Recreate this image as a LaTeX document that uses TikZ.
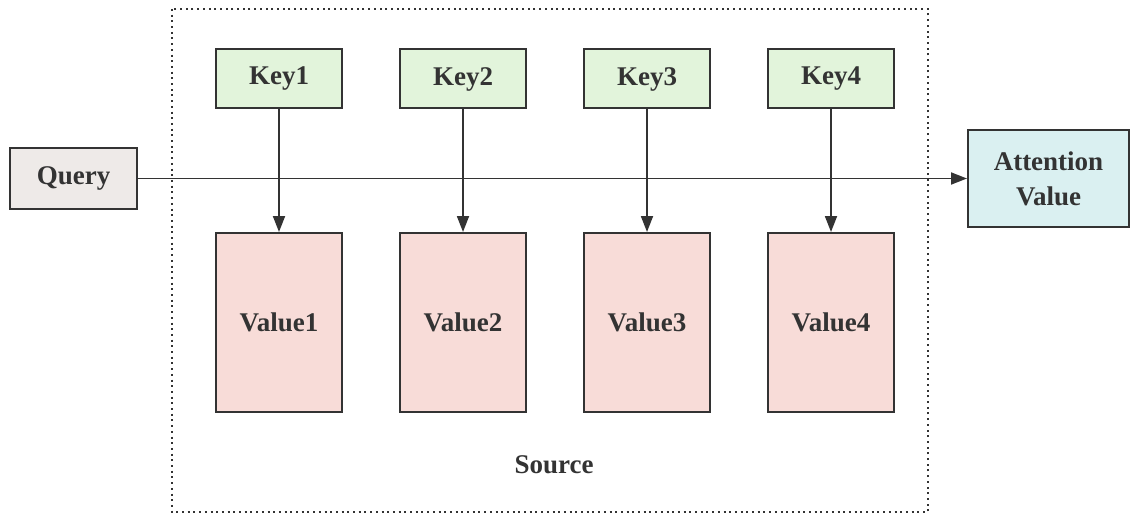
\documentclass[tikz,border=0pt]{standalone}
\usepackage{fontspec}
\setmainfont{Liberation Serif}[BoldFont={Liberation Serif Bold}]
\usepackage{tikz}
\usetikzlibrary{arrows.meta}
\definecolor{ATDark}{RGB}{51,51,51}
\definecolor{ATKey}{RGB}{226,244,219}
\definecolor{ATVal}{RGB}{248,220,216}
\definecolor{ATQry}{RGB}{238,234,232}
\definecolor{ATOut}{RGB}{218,240,241}

\begin{document}
\begin{tikzpicture}[x=1pt, y=-1pt,
      abox/.style={rectangle, draw=ATDark, line width=2pt, inner sep=0pt,
                   align=center, text=ATDark,
                   font=\fontsize{27}{35}\selectfont\bfseries},
      arr/.style={-{Triangle[length=16pt, width=12pt]}, draw=ATDark, line width=1.8pt}
    ]
    \useasboundingbox (0,0) rectangle (1130,516);

    % source frame
    \draw[ATDark, line width=2pt, dash pattern=on 2pt off 3.7pt] (172,9) rectangle (928,512);
    \node[font=\fontsize{27}{32}\selectfont\bfseries, text=ATDark] (src) at (554,465) {Source};

    \node[abox, fill=ATQry, minimum width=127pt, minimum height=60pt] (qry) at (73.5,178.5) {Query};
    \node[abox, fill=ATOut, minimum width=161pt, minimum height=96pt] (att) at (1048.5,178.5)
          {Attention\\Value};

    \foreach \i in {1,...,4}{
      \node[abox, fill=ATKey, minimum width=126pt, minimum height=59pt]
            (key\i) at (279+184*\i-184, 79) {Key\i};
      \node[abox, fill=ATVal, minimum width=126pt, minimum height=179pt]
            (val\i) at (279+184*\i-184, 322.5) {Value\i};
      \draw[arr] (key\i) -- (val\i);
    }

    \draw[arr] (qry) -- (att);
  \end{tikzpicture}
\end{document}
